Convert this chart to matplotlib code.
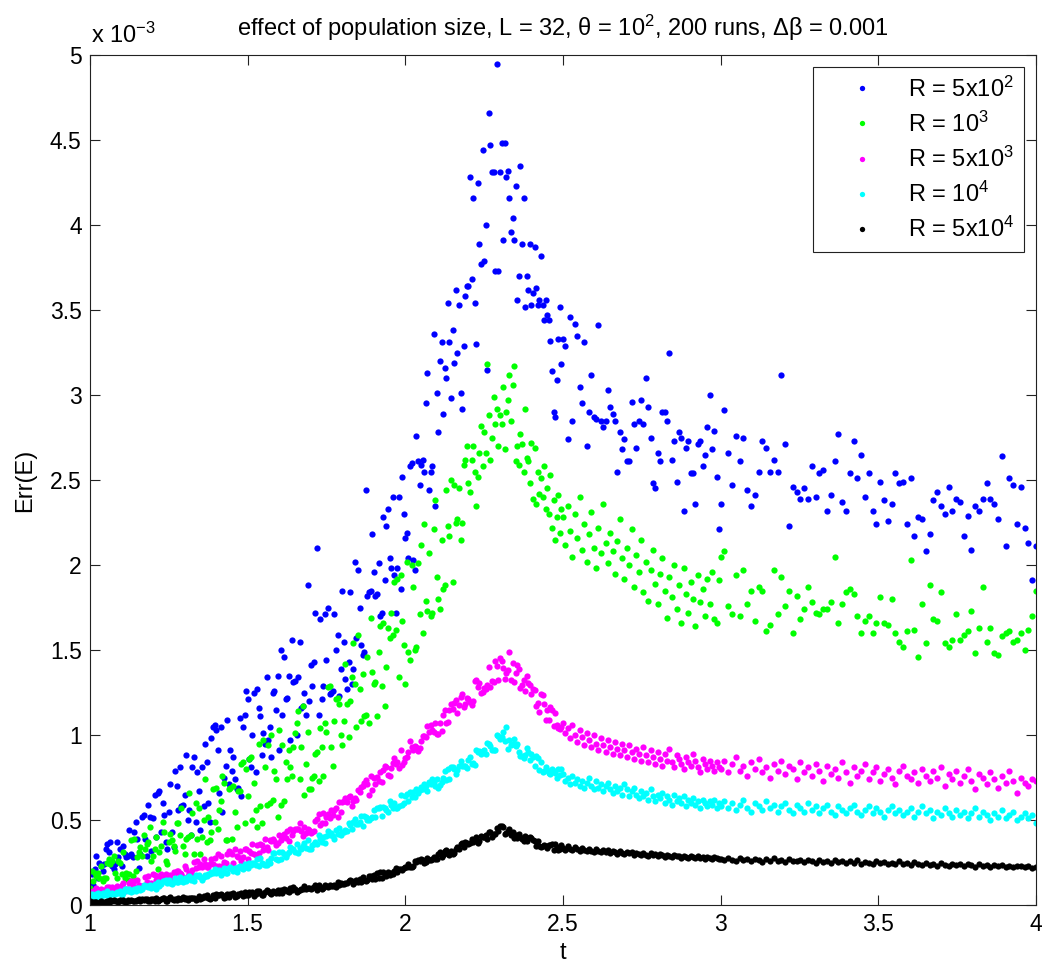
import matplotlib
matplotlib.use("Agg")
import matplotlib.pyplot as plt
import numpy as np
from matplotlib.ticker import FuncFormatter

# temperature grid: denser sampling where the reference has more points
t = np.concatenate([
    np.linspace(1.0, 1.495, 100),
    np.linspace(1.5, 1.995, 100),
    np.linspace(2.0, 2.495, 100),
    np.linspace(2.5, 2.995, 67),
    np.linspace(3.0, 4.0, 84),
])

# Err(E) values, in units of 1e-3
err_r5e2 = [
    # t 1.000 - 1.495
    0.11, 0.18, 0.12, 0.21, 0.29, 0.16, 0.25, 0.23, 0.20, 0.24,
    0.33, 0.36, 0.31, 0.37, 0.23, 0.21, 0.24, 0.37, 0.28, 0.33,
    0.23, 0.35, 0.30, 0.28, 0.29, 0.44, 0.30, 0.28, 0.43, 0.49,
    0.39, 0.22, 0.30, 0.52, 0.53, 0.39, 0.29, 0.59, 0.52, 0.32,
    0.51, 0.65, 0.40, 0.66, 0.67, 0.43, 0.60, 0.53, 0.37, 0.33,
    0.55, 0.71, 0.43, 0.34, 0.79, 0.70, 0.56, 0.81, 0.58, 0.59,
    0.65, 0.88, 0.50, 0.56, 0.41, 0.81, 0.87, 0.49, 0.78, 0.67,
    0.44, 0.81, 0.58, 0.95, 0.84, 0.60, 0.49, 0.98, 1.05, 1.06,
    1.03, 0.91, 0.66, 1.05, 0.55, 0.75, 0.82, 1.09, 0.71, 0.91,
    0.79, 0.87, 0.74, 0.68, 0.69, 1.10, 0.64, 1.05, 1.12, 1.26,
    # t 1.500 - 1.995
    1.21, 0.86, 0.81, 1.00, 1.25, 0.78, 1.27, 1.16, 1.11, 0.88,
    1.01, 0.95, 1.34, 0.97, 1.05, 0.87, 1.25, 1.26, 1.15, 1.35,
    0.91, 1.50, 1.12, 1.46, 1.21, 1.22, 1.35, 0.97, 1.56, 1.31,
    1.32, 1.00, 1.34, 1.55, 1.16, 1.17, 1.25, 1.12, 1.88, 1.20,
    1.41, 1.29, 1.43, 1.72, 2.10, 1.12, 1.68, 1.21, 1.29, 1.71,
    1.44, 1.75, 1.24, 1.25, 1.26, 1.71, 1.50, 1.59, 1.23, 1.39,
    1.85, 1.55, 1.33, 1.27, 1.43, 1.84, 1.30, 1.39, 2.02, 1.57,
    1.97, 1.75, 1.53, 1.47, 1.49, 2.44, 1.82, 1.84, 1.85, 2.18,
    1.96, 1.82, 1.83, 2.01, 1.70, 1.72, 2.28, 1.91, 2.23, 2.33,
    2.04, 1.98, 2.40, 1.94, 1.72, 1.98, 2.40, 1.86, 2.52, 2.30,
    # t 2.000 - 2.495
    2.16, 2.19, 2.04, 2.58, 2.60, 2.03, 1.97, 2.76, 2.61, 2.47,
    2.59, 2.62, 2.55, 2.95, 3.13, 2.44, 2.55, 2.58, 3.36, 2.35,
    3.01, 2.78, 3.20, 3.31, 2.89, 3.16, 3.10, 3.54, 3.31, 2.98,
    3.38, 3.19, 3.62, 3.25, 3.53, 3.01, 2.92, 3.29, 3.58, 3.64,
    3.64, 4.28, 3.68, 4.16, 3.54, 3.30, 4.25, 3.89, 3.77, 4.44,
    3.79, 4.00, 3.15, 4.66, 4.47, 4.31, 4.31, 3.73, 4.95, 3.73,
    4.31, 4.48, 3.91, 4.48, 4.28, 4.32, 4.16, 3.96, 4.04, 3.91,
    4.23, 3.56, 3.70, 4.35, 3.89, 4.16, 3.52, 3.70, 3.62, 3.89,
    3.53, 3.60, 3.87, 3.63, 3.53, 3.56, 3.82, 3.53, 3.44, 3.56,
    3.47, 3.44, 3.32, 3.14, 2.90, 2.87, 3.09, 3.33, 3.52, 3.18,
    # t 2.500 - 2.995
    3.33, 3.29, 2.74, 3.46, 2.85, 3.42, 3.35, 3.05, 2.95, 3.31, 2.70, 2.90, 3.12, 2.87, 2.86, 3.41, 2.85, 2.81, 2.85, 3.03,
    2.93, 2.89, 2.85, 2.55, 2.78, 2.68, 2.74, 2.61, 2.61, 2.96, 2.83, 2.69, 2.85, 2.97, 2.83, 3.10, 2.93, 2.75, 2.48, 2.45,
    2.66, 2.61, 2.90, 2.90, 2.85, 3.25, 2.62, 2.73, 2.49, 2.78, 2.75, 2.32, 2.69, 2.73, 2.54, 2.54, 2.36, 2.71, 2.73, 2.58,
    2.65, 2.81, 3.00, 2.68, 2.79, 2.52, 2.21,
    # t 3.00 - 4.00
    2.36, 2.91, 2.66, 2.47, 2.76, 2.61, 2.75, 2.44, 2.35, 2.41, 2.55, 2.73, 2.69, 2.55, 2.62, 2.55, 3.12, 2.71, 2.23, 2.46,
    2.43, 2.39, 2.45, 2.39, 2.58, 2.40, 2.54, 2.56, 2.32, 2.41, 2.61, 2.77, 2.37, 2.32, 2.54, 2.73, 2.51, 2.65, 2.40, 2.54,
    2.32, 2.24, 2.49, 2.38, 2.26, 2.36, 2.54, 2.48, 2.49, 2.24, 2.51, 2.17, 2.28, 2.27, 2.08, 2.18, 2.38, 2.43, 2.35, 2.30,
    2.46, 2.32, 2.39, 2.37, 2.17, 2.29, 2.09, 2.35, 2.32, 2.39, 2.48, 2.39, 2.36, 2.27, 2.64, 2.11, 2.51, 2.47, 2.24, 2.46,
    2.22, 2.13, 1.91, 2.11,
]

err_r1e3 = [
    0.10, 0.20, 0.14, 0.19, 0.17, 0.19, 0.16, 0.23, 0.14, 0.16,
    0.16, 0.25, 0.27, 0.24, 0.26, 0.29, 0.19, 0.16, 0.26, 0.25,
    0.18, 0.31, 0.16, 0.19, 0.15, 0.18, 0.38, 0.17, 0.39, 0.20,
    0.28, 0.31, 0.34, 0.29, 0.41, 0.33, 0.36, 0.37, 0.46, 0.26,
    0.29, 0.33, 0.40, 0.21, 0.31, 0.35, 0.49, 0.43, 0.26, 0.24,
    0.37, 0.42, 0.38, 0.35, 0.32, 0.48, 0.48, 0.41, 0.57, 0.35,
    0.30, 0.39, 0.40, 0.66, 0.41, 0.54, 0.30, 0.60, 0.39, 0.57,
    0.30, 0.40, 0.50, 0.74, 0.37, 0.52, 0.38, 0.43, 0.68, 0.49,
    0.69, 0.45, 0.56, 0.61, 0.76, 0.72, 0.38, 0.38, 0.68, 0.69,
    0.39, 0.70, 0.55, 0.46, 0.67, 0.67, 0.83, 0.84, 0.48, 0.80,
    0.64, 0.86, 0.87, 0.50, 0.72, 0.56, 0.46, 0.95, 0.58, 0.48,
    0.97, 0.81, 0.59, 0.94, 0.60, 1.00, 0.62, 0.79, 0.74, 0.52,
    1.03, 0.59, 0.94, 0.61, 0.84, 0.74, 0.91, 0.81, 0.76, 0.93,
    1.01, 1.07, 1.14, 0.74, 0.93, 1.17, 0.65, 0.83, 1.02, 0.68,
    0.68, 0.75, 0.76, 0.89, 0.90, 0.73, 1.04, 0.93, 0.76, 1.07,
    1.02, 1.28, 1.29, 0.93, 0.82, 1.08, 1.21, 1.22, 1.18, 1.00,
    0.94, 1.08, 1.42, 1.18, 0.99, 1.20, 1.34, 1.54, 1.30, 1.05,
    1.59, 1.27, 1.08, 1.36, 1.11, 1.12, 1.46, 1.07, 1.69, 1.37,
    1.30, 1.31, 1.11, 1.49, 1.64, 1.29, 1.66, 1.17, 1.40, 1.63,
    1.57, 1.72, 1.59, 1.90, 1.62, 1.92, 1.34, 1.94, 1.67, 1.53,
    1.30, 2.02, 1.49, 1.44, 2.00, 1.87, 1.50, 1.52, 2.01, 1.71,
    2.12, 1.60, 2.24, 1.79, 1.73, 2.07, 1.70, 1.72, 2.21, 2.38,
    1.93, 1.80, 1.74, 2.15, 1.86, 1.88, 2.44, 2.23, 2.17, 2.50,
    1.90, 2.47, 2.25, 2.27, 2.45, 2.15, 2.25, 2.59, 2.62, 2.70,
    2.48, 2.43, 2.62, 2.70, 2.55, 2.35, 2.52, 2.66, 2.82, 2.58,
    2.78, 2.66, 3.18, 2.88, 2.62, 2.75, 2.99, 2.83, 2.92, 2.70,
    2.88, 2.83, 3.05, 2.68, 2.90, 2.97, 3.12, 2.85, 3.06, 3.17,
    2.61, 2.70, 2.59, 2.77, 2.71, 2.55, 2.92, 2.63, 2.61, 2.48,
    2.72, 2.39, 2.69, 2.36, 2.55, 2.42, 2.51, 2.40, 2.58, 2.33,
    2.45, 2.30, 2.53, 2.22, 2.38, 2.15, 2.28, 2.41, 2.19, 2.33,
    2.28, 2.12, 2.35, 2.20, 2.05, 2.30, 2.16, 2.40, 2.09, 2.24, 2.02, 2.18, 2.31, 2.10, 1.98, 2.22, 2.07, 2.36, 2.13, 2.01,
    2.19, 2.08, 1.95, 2.14, 2.27, 2.04, 1.92, 2.10, 2.00, 2.21, 1.87, 2.06, 1.96, 2.15, 1.84, 2.02, 1.79, 1.97, 2.09, 1.89,
    1.77, 1.95, 2.04, 1.85, 1.69, 1.93, 1.81, 2.00, 1.74, 1.88, 1.66, 1.98, 1.83, 1.72, 1.90, 1.80, 1.64, 1.94, 1.78, 1.86,
    1.70, 1.92, 1.77, 1.96, 1.68, 1.66, 1.91,
    2.05, 2.08, 1.76, 1.71, 1.94, 1.70, 1.97, 1.77, 1.85, 1.67, 1.87, 1.85, 1.61, 1.65, 1.97, 1.71, 1.93, 1.76, 1.85, 1.60,
    1.82, 1.68, 1.74, 1.87, 1.78, 1.72, 1.71, 1.74, 1.74, 1.78, 2.05, 1.66, 1.77, 1.84, 1.86, 1.83, 1.70, 1.60, 1.67, 1.70,
    1.60, 1.66, 1.81, 1.66, 1.65, 1.80, 1.60, 1.55, 1.52, 1.61, 2.03, 1.62, 1.46, 1.77, 1.54, 1.88, 1.68, 1.67, 1.84, 1.54,
    1.52, 1.56, 1.71, 1.56, 1.59, 1.61, 1.73, 1.48, 1.63, 1.87, 1.55, 1.63, 1.48, 1.47, 1.58, 1.60, 1.61, 1.55, 1.56, 1.60,
    1.50, 1.62, 1.70, 1.85,
]

err_r5e3 = [
    0.077, 0.060, 0.085, 0.073, 0.098, 0.080, 0.086, 0.093, 0.075, 0.086,
    0.066, 0.106, 0.107, 0.093, 0.104, 0.096, 0.081, 0.109, 0.084, 0.096,
    0.120, 0.129, 0.085, 0.093, 0.095, 0.128, 0.141, 0.109, 0.140, 0.103,
    0.147, 0.119, 0.102, 0.111, 0.113, 0.166, 0.137, 0.171, 0.123, 0.132,
    0.180, 0.176, 0.145, 0.148, 0.170, 0.180, 0.155, 0.158, 0.180, 0.156,
    0.171, 0.174, 0.148, 0.194, 0.189, 0.199, 0.201, 0.189, 0.184, 0.166,
    0.227, 0.214, 0.172, 0.190, 0.185, 0.204, 0.252, 0.217, 0.258, 0.223,
    0.242, 0.221, 0.272, 0.243, 0.222, 0.225, 0.244, 0.271, 0.242, 0.277,
    0.230, 0.301, 0.227, 0.289, 0.232, 0.252, 0.245, 0.299, 0.318, 0.313,
    0.298, 0.248, 0.330, 0.289, 0.282, 0.320, 0.260, 0.281, 0.327, 0.330,
    0.270, 0.318, 0.304, 0.361, 0.302, 0.297, 0.353, 0.304, 0.360, 0.355,
    0.323, 0.389, 0.339, 0.325, 0.381, 0.376, 0.388, 0.374, 0.351, 0.364,
    0.413, 0.380, 0.403, 0.418, 0.393, 0.436, 0.374, 0.445, 0.411, 0.435,
    0.450, 0.445, 0.449, 0.483, 0.438, 0.404, 0.457, 0.423, 0.446, 0.441,
    0.425, 0.431, 0.436, 0.492, 0.507, 0.533, 0.468, 0.484, 0.539, 0.485,
    0.520, 0.536, 0.510, 0.557, 0.532, 0.558, 0.573, 0.518, 0.605, 0.549,
    0.607, 0.614, 0.631, 0.606, 0.635, 0.642, 0.585, 0.613, 0.631, 0.616,
    0.678, 0.663, 0.692, 0.699, 0.717, 0.735, 0.709, 0.649, 0.756, 0.674,
    0.748, 0.712, 0.753, 0.728, 0.780, 0.721, 0.796, 0.815, 0.812, 0.764,
    0.761, 0.804, 0.835, 0.866, 0.831, 0.840, 0.804, 0.913, 0.822, 0.842,
    0.862, 0.870, 0.900, 0.964, 0.928, 0.914, 0.933, 0.930, 0.904, 0.923,
    0.965, 0.995, 0.992, 0.989, 1.052, 1.016, 1.057, 1.032, 1.018, 1.070,
    1.007, 1.004, 1.073, 1.021, 1.115, 1.148, 1.070, 1.079, 1.149, 1.182,
    1.153, 1.187, 1.207, 1.130, 1.175, 1.221, 1.241, 1.164, 1.185, 1.218,
    1.213, 1.195, 1.178, 1.200, 1.316, 1.325, 1.281, 1.303, 1.245, 1.254,
    1.274, 1.268, 1.292, 1.402, 1.281, 1.319, 1.313, 1.438, 1.403, 1.326,
    1.455, 1.433, 1.392, 1.330, 1.367, 1.382, 1.490, 1.325, 1.425, 1.310,
    1.367, 1.414, 1.389, 1.276, 1.295, 1.326, 1.258, 1.348, 1.308, 1.297,
    1.243, 1.273, 1.262, 1.170, 1.186, 1.135, 1.244, 1.233, 1.182, 1.091,
    1.146, 1.089, 1.167, 1.147, 1.053, 1.131, 1.061, 1.041, 1.033, 1.050,
    1.07, 1.01, 1.04, 0.98, 1.06, 1.00, 0.96, 1.03, 0.99, 0.94, 1.01, 0.97, 0.93, 1.00, 0.95, 0.91, 0.98, 0.94, 0.90, 0.97,
    0.93, 0.89, 0.96, 0.92, 0.88, 0.95, 0.91, 0.87, 0.94, 0.90, 0.86, 0.92, 0.89, 0.85, 0.93, 0.88, 0.84, 0.91, 0.87, 0.83,
    0.90, 0.86, 0.82, 0.89, 0.85, 0.92, 0.84, 0.81, 0.88, 0.86, 0.83, 0.80, 0.87, 0.84, 0.82, 0.89, 0.85, 0.81, 0.78, 0.86,
    0.83, 0.80, 0.85, 0.82, 0.79, 0.84, 0.81,
    0.80, 0.85, 0.78, 0.83, 0.87, 0.79, 0.82, 0.76, 0.84, 0.80, 0.86, 0.78, 0.81, 0.75, 0.83, 0.79, 0.85, 0.77, 0.82, 0.80,
    0.74, 0.84, 0.78, 0.81, 0.76, 0.83, 0.79, 0.73, 0.82, 0.77, 0.80, 0.75, 0.84, 0.78, 0.72, 0.81, 0.76, 0.79, 0.83, 0.74,
    0.78, 0.81, 0.73, 0.77, 0.80, 0.75, 0.71, 0.79, 0.82, 0.76, 0.74, 0.78, 0.72, 0.80, 0.76, 0.73, 0.79, 0.75, 0.81, 0.70,
    0.77, 0.74, 0.79, 0.72, 0.76, 0.80, 0.73, 0.68, 0.77, 0.75, 0.71, 0.78, 0.74, 0.69, 0.76, 0.72, 0.79, 0.73, 0.66, 0.75,
    0.72, 0.70, 0.74, 0.73,
]

err_r1e4 = [
    0.058, 0.065, 0.039, 0.046, 0.067, 0.070, 0.045, 0.051, 0.072, 0.060,
    0.065, 0.081, 0.050, 0.066, 0.071, 0.062, 0.067, 0.076, 0.070, 0.082,
    0.061, 0.070, 0.094, 0.093, 0.082, 0.096, 0.075, 0.083, 0.093, 0.082,
    0.100, 0.102, 0.087, 0.097, 0.118, 0.112, 0.114, 0.107, 0.117, 0.098,
    0.108, 0.123, 0.095, 0.135, 0.112, 0.126, 0.141, 0.143, 0.145, 0.130,
    0.150, 0.130, 0.123, 0.134, 0.158, 0.133, 0.135, 0.164, 0.139, 0.137,
    0.157, 0.140, 0.166, 0.168, 0.146, 0.158, 0.141, 0.176, 0.173, 0.175,
    0.163, 0.150, 0.167, 0.178, 0.171, 0.182, 0.180, 0.196, 0.188, 0.210,
    0.187, 0.195, 0.207, 0.178, 0.190, 0.218, 0.189, 0.186, 0.219, 0.226,
    0.213, 0.199, 0.217, 0.197, 0.226, 0.228, 0.219, 0.211, 0.239, 0.225,
    0.216, 0.247, 0.233, 0.246, 0.249, 0.236, 0.272, 0.231, 0.277, 0.247,
    0.243, 0.235, 0.238, 0.259, 0.245, 0.277, 0.303, 0.306, 0.269, 0.267,
    0.311, 0.273, 0.312, 0.298, 0.283, 0.299, 0.314, 0.342, 0.327, 0.331,
    0.309, 0.357, 0.304, 0.333, 0.330, 0.346, 0.362, 0.334, 0.381, 0.329,
    0.331, 0.354, 0.358, 0.369, 0.360, 0.409, 0.387, 0.372, 0.402, 0.367,
    0.403, 0.434, 0.411, 0.422, 0.406, 0.390, 0.441, 0.418, 0.455, 0.413,
    0.430, 0.428, 0.439, 0.437, 0.482, 0.473, 0.450, 0.489, 0.507, 0.478,
    0.474, 0.486, 0.526, 0.467, 0.521, 0.519, 0.501, 0.499, 0.510, 0.515,
    0.556, 0.517, 0.573, 0.571, 0.576, 0.522, 0.578, 0.569, 0.559, 0.549,
    0.614, 0.589, 0.571, 0.599, 0.573, 0.571, 0.583, 0.649, 0.586, 0.598,
    0.642, 0.654, 0.611, 0.662, 0.634, 0.662, 0.634, 0.685, 0.658, 0.678,
    0.695, 0.683, 0.711, 0.699, 0.671, 0.723, 0.711, 0.739, 0.719, 0.699,
    0.741, 0.689, 0.703, 0.726, 0.748, 0.787, 0.735, 0.799, 0.739, 0.811,
    0.810, 0.799, 0.771, 0.794, 0.817, 0.848, 0.820, 0.818, 0.815, 0.804,
    0.853, 0.869, 0.831, 0.838, 0.826, 0.913, 0.901, 0.908, 0.888, 0.903,
    0.910, 0.888, 0.951, 0.949, 0.936, 0.914, 0.911, 0.909, 0.999, 0.997,
    0.975, 0.987, 1.015, 0.962, 1.045, 0.916, 0.973, 0.940, 0.947, 0.974,
    0.935, 0.947, 0.902, 0.877, 0.879, 0.863, 0.884, 0.924, 0.898, 0.853,
    0.891, 0.868, 0.819, 0.876, 0.862, 0.795, 0.843, 0.785, 0.789, 0.811,
    0.796, 0.775, 0.771, 0.801, 0.788, 0.776, 0.746, 0.802, 0.764, 0.802,
    0.77, 0.73, 0.75, 0.71, 0.76, 0.72, 0.74, 0.70, 0.73, 0.69, 0.72, 0.75, 0.70, 0.68, 0.73, 0.69, 0.71, 0.67, 0.70, 0.72,
    0.68, 0.66, 0.70, 0.67, 0.69, 0.65, 0.71, 0.68, 0.64, 0.67, 0.69, 0.65, 0.63, 0.67, 0.64, 0.66, 0.62, 0.68, 0.64, 0.61,
    0.65, 0.63, 0.66, 0.60, 0.64, 0.62, 0.59, 0.65, 0.61, 0.63, 0.60, 0.64, 0.58, 0.62, 0.60, 0.63, 0.59, 0.61, 0.57, 0.62,
    0.60, 0.58, 0.61, 0.59, 0.62, 0.57, 0.60,
    0.58, 0.61, 0.57, 0.60, 0.56, 0.59, 0.62, 0.57, 0.55, 0.60, 0.58, 0.56, 0.61, 0.57, 0.59, 0.55, 0.58, 0.60, 0.56, 0.54,
    0.59, 0.57, 0.55, 0.60, 0.56, 0.58, 0.54, 0.57, 0.59, 0.55, 0.53, 0.58, 0.56, 0.54, 0.57, 0.59, 0.55, 0.53, 0.56, 0.58,
    0.54, 0.57, 0.55, 0.52, 0.56, 0.58, 0.54, 0.56, 0.53, 0.55, 0.57, 0.52, 0.55, 0.58, 0.54, 0.56, 0.51, 0.55, 0.53, 0.57,
    0.54, 0.52, 0.56, 0.53, 0.55, 0.51, 0.54, 0.57, 0.52, 0.55, 0.53, 0.50, 0.54, 0.52, 0.56, 0.51, 0.53, 0.55, 0.50, 0.52,
    0.54, 0.51, 0.53, 0.48,
]

err_r5e4 = [
    0.021, 0.009, 0.020, 0.016, 0.015, 0.010, 0.014, 0.021, 0.007, 0.020,
    0.019, 0.023, 0.011, 0.027, 0.024, 0.028, 0.021, 0.022, 0.020, 0.030,
    0.023, 0.027, 0.020, 0.020, 0.027, 0.021, 0.027, 0.024, 0.026, 0.021,
    0.031, 0.033, 0.026, 0.034, 0.027, 0.033, 0.035, 0.024, 0.024, 0.033,
    0.036, 0.025, 0.041, 0.022, 0.031, 0.034, 0.041, 0.041, 0.026, 0.024,
    0.041, 0.046, 0.033, 0.031, 0.034, 0.027, 0.041, 0.035, 0.038, 0.049,
    0.034, 0.039, 0.030, 0.043, 0.044, 0.041, 0.040, 0.032, 0.035, 0.051,
    0.036, 0.039, 0.055, 0.050, 0.058, 0.041, 0.037, 0.040, 0.057, 0.039,
    0.062, 0.060, 0.056, 0.064, 0.057, 0.044, 0.047, 0.067, 0.046, 0.063,
    0.066, 0.070, 0.049, 0.055, 0.067, 0.067, 0.073, 0.052, 0.075, 0.059,
    0.057, 0.078, 0.073, 0.076, 0.054, 0.067, 0.082, 0.083, 0.071, 0.061,
    0.059, 0.074, 0.086, 0.081, 0.071, 0.066, 0.084, 0.074, 0.071, 0.089,
    0.069, 0.086, 0.068, 0.097, 0.089, 0.080, 0.075, 0.098, 0.090, 0.103,
    0.092, 0.077, 0.084, 0.091, 0.092, 0.097, 0.110, 0.095, 0.100, 0.101,
    0.095, 0.099, 0.108, 0.119, 0.090, 0.119, 0.103, 0.094, 0.102, 0.117,
    0.111, 0.107, 0.118, 0.110, 0.111, 0.116, 0.107, 0.136, 0.117, 0.129,
    0.123, 0.125, 0.129, 0.131, 0.140, 0.148, 0.140, 0.124, 0.137, 0.145,
    0.136, 0.152, 0.137, 0.167, 0.148, 0.143, 0.145, 0.171, 0.173, 0.151,
    0.175, 0.155, 0.187, 0.160, 0.192, 0.161, 0.197, 0.177, 0.172, 0.194,
    0.176, 0.191, 0.182, 0.201, 0.220, 0.195, 0.214, 0.213, 0.208, 0.219,
    0.226, 0.221, 0.240, 0.223, 0.222, 0.229, 0.256, 0.251, 0.262, 0.261,
    0.269, 0.265, 0.246, 0.255, 0.279, 0.262, 0.265, 0.273, 0.284, 0.271,
    0.269, 0.300, 0.312, 0.280, 0.297, 0.319, 0.322, 0.299, 0.293, 0.319,
    0.300, 0.308, 0.330, 0.343, 0.329, 0.360, 0.364, 0.341, 0.372, 0.363,
    0.358, 0.362, 0.389, 0.370, 0.388, 0.401, 0.363, 0.376, 0.408, 0.398,
    0.398, 0.411, 0.391, 0.429, 0.428, 0.398, 0.417, 0.416, 0.454, 0.438,
    0.462, 0.463, 0.457, 0.415, 0.422, 0.438, 0.445, 0.413, 0.429, 0.397,
    0.412, 0.395, 0.420, 0.399, 0.391, 0.374, 0.408, 0.377, 0.393, 0.399,
    0.395, 0.384, 0.377, 0.348, 0.376, 0.347, 0.344, 0.347, 0.353, 0.346,
    0.335, 0.351, 0.353, 0.361, 0.325, 0.358, 0.339, 0.325, 0.327, 0.352,
    0.338, 0.326, 0.345, 0.331, 0.322, 0.339, 0.327, 0.318, 0.334, 0.323, 0.315, 0.330, 0.320, 0.312, 0.327, 0.317, 0.309, 0.324, 0.314, 0.321,
    0.306, 0.318, 0.310, 0.302, 0.316, 0.307, 0.299, 0.313, 0.304, 0.310, 0.296, 0.308, 0.300, 0.293, 0.306, 0.297, 0.290, 0.303, 0.295, 0.301,
    0.288, 0.299, 0.292, 0.285, 0.297, 0.289, 0.282, 0.294, 0.286, 0.291, 0.279, 0.290, 0.284, 0.277, 0.288, 0.281, 0.275, 0.286, 0.279, 0.283,
    0.272, 0.282, 0.276, 0.270, 0.280, 0.274, 0.268,
    0.271, 0.263, 0.278, 0.266, 0.259, 0.274, 0.262, 0.269, 0.257, 0.272, 0.264, 0.255, 0.268, 0.260, 0.275, 0.258, 0.266, 0.253, 0.270, 0.261,
    0.256, 0.267, 0.251, 0.263, 0.258, 0.249, 0.265, 0.254, 0.260, 0.247, 0.262, 0.252, 0.258, 0.245, 0.257, 0.250, 0.263, 0.244, 0.255, 0.248,
    0.241, 0.256, 0.246, 0.252, 0.239, 0.250, 0.243, 0.257, 0.240, 0.248, 0.236, 0.251, 0.242, 0.234, 0.247, 0.238, 0.244, 0.232, 0.246, 0.237,
    0.230, 0.243, 0.235, 0.240, 0.228, 0.239, 0.233, 0.226, 0.241, 0.231, 0.236, 0.224, 0.234, 0.229, 0.238, 0.225, 0.232, 0.221, 0.230, 0.227,
    0.223, 0.231, 0.219, 0.222,
]

series_labels = ['R = 5x10$^2$', 'R = 10$^3$', 'R = 5x10$^3$', 'R = 10$^4$', 'R = 5x10$^4$']
series_colors = ['#0000ff', '#00ff00', '#ff00ff', '#00ffff', '#000000']
x_ticks = [1, 1.5, 2, 2.5, 3, 3.5, 4]
y_ticks = [0, 0.5, 1, 1.5, 2, 2.5, 3, 3.5, 4, 4.5, 5]

title = 'effect of population size, L = 32, θ = 10$^2$, 200 runs, Δβ = 0.001'

plt.rcParams['font.family'] = ['Liberation Sans', 'DejaVu Sans']
plt.rcParams['mathtext.default'] = 'regular'
FS = 17

fig = plt.figure(figsize=(10.43, 9.69), dpi=100, facecolor='w')
ax = fig.add_axes([90 / 1043, 64 / 969, 946 / 1043, 850 / 969])

all_series = [err_r5e2, err_r1e3, err_r5e3, err_r1e4, err_r5e4]
for vals, col, lab in zip(all_series, series_colors, series_labels):
    if len(vals) != len(t):
        raise ValueError(f"{lab}: {len(vals)} values for {len(t)} t points")
    ax.plot(t, vals, 'o', color=col, ms=4.5, mew=0, label=lab)

ax.set_xlim(1, 4)
ax.set_ylim(0, 5)
ax.set_xticks(x_ticks)
ax.set_yticks(y_ticks)
ax.xaxis.set_major_formatter(FuncFormatter(lambda v, p: f'{v:g}'))
ax.yaxis.set_major_formatter(FuncFormatter(lambda v, p: f'{v:g}'))
ax.tick_params(direction='in', length=7, width=0.8, top=True, right=True,
               labelsize=16.5, pad=6, color='#222222')
for spine in ax.spines.values():
    spine.set_color('#222222')
    spine.set_linewidth(0.8)

ax.set_title(title, fontsize=FS, pad=14)
ax.set_xlabel('t', fontsize=FS, labelpad=4)
ax.set_ylabel('Err(E)', fontsize=FS, labelpad=10)
ax.text(0.001, 1.014, 'x 10$^{-3}$', transform=ax.transAxes, fontsize=FS,
        ha='left', va='baseline')

leg = ax.legend(loc='upper right', bbox_to_anchor=(1024 / 1043, (969 - 67) / 969),
                bbox_transform=fig.transFigure, borderaxespad=0, fontsize=FS,
                frameon=True, fancybox=False, framealpha=1, edgecolor='#222222',
                markerscale=0.85, handlelength=3.4, handletextpad=0.25,
                borderpad=0.4, labelspacing=0.42)
leg.get_frame().set_linewidth(0.8)

fig.savefig('out.png', dpi=100)
